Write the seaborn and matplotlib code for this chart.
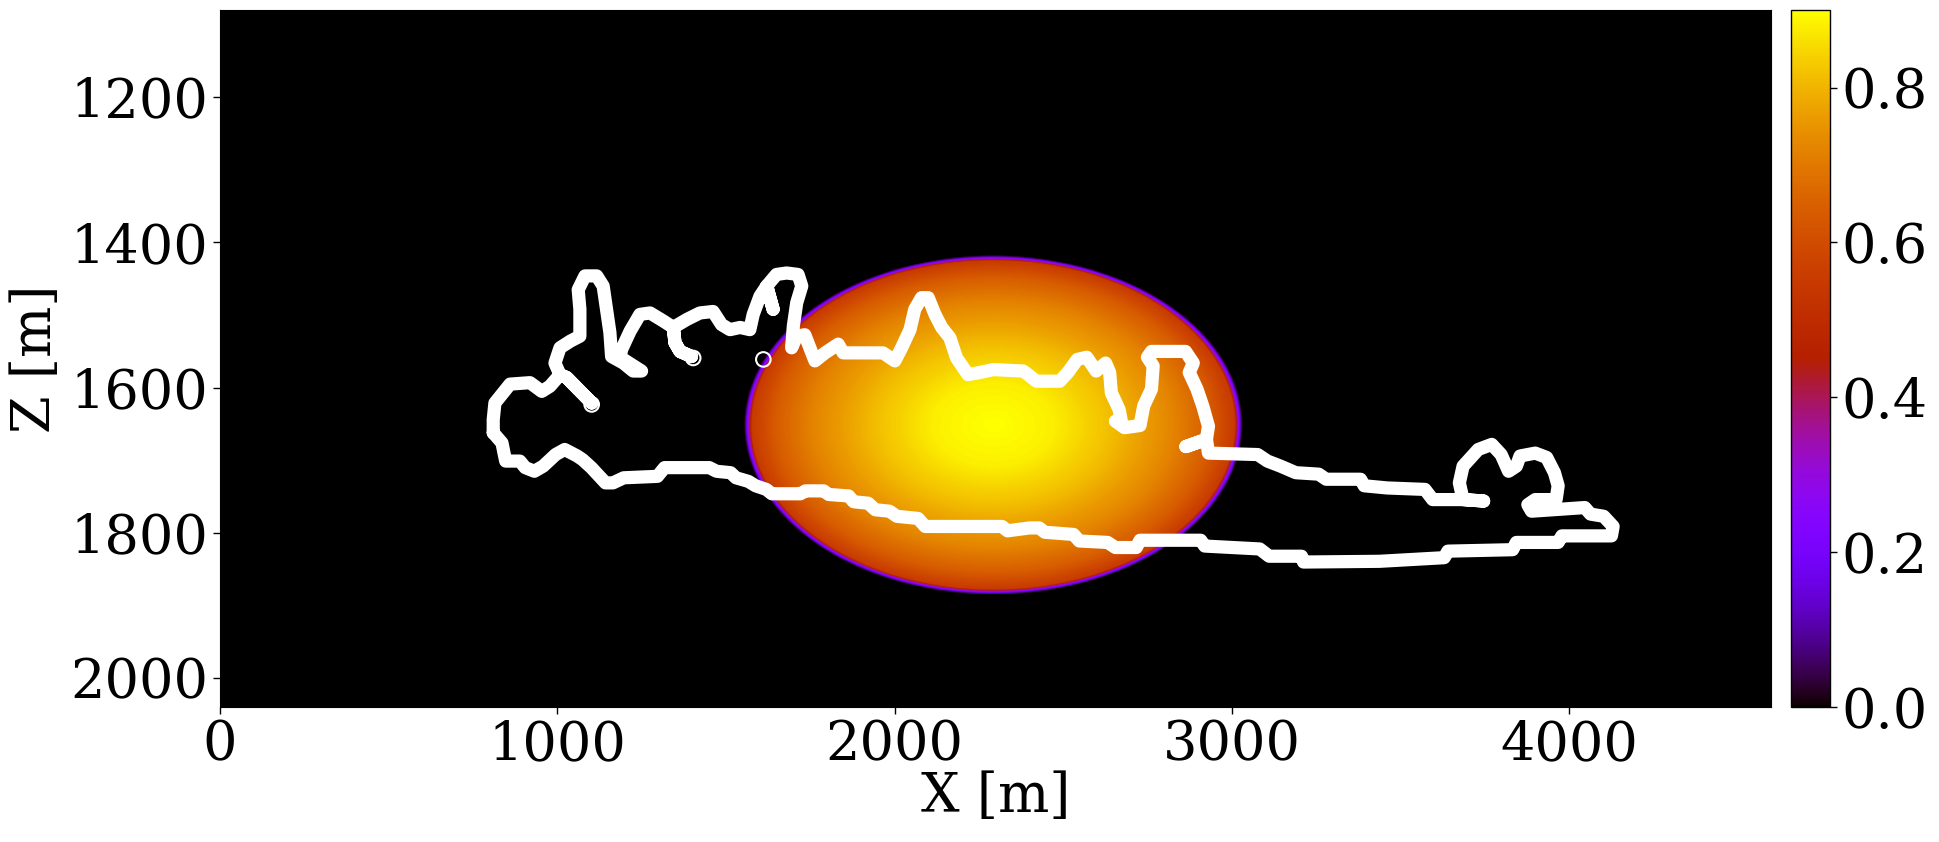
import numpy as np
import matplotlib
matplotlib.use("Agg")
import matplotlib.pyplot as plt
import seaborn as sns

# grid extent of the model [m]
x_range = [0, 4600]
z_range = [1080, 2040]

ell_center = (2292, 1652)
ell_half = (716, 226)
profile_r = [0.0, 0.25, 0.5, 0.75, 0.9, 1.0, 1.03]
profile_val = [0.90, 0.88, 0.81, 0.72, 0.64, 0.55, 0.0]

# white outline (x, z) in metres
outline_x = [810, 810, 815, 860, 919, 954, 978, 1008, 1028, 1102, 1028, 1008,
             993, 1008, 1038, 1067, 1067, 1062, 1082, 1117, 1136, 1146, 1156, 1161,
             1196, 1225, 1250, 1186, 1191, 1216, 1245, 1275, 1314, 1344, 1349, 1364,
             1398, 1364, 1349, 1344, 1384, 1423, 1462, 1487, 1512, 1542, 1571, 1581,
             1601, 1621, 1640, 1621, 1650, 1680, 1714, 1725, 1710, 1700, 1695, 1710,
             1734, 1764, 1794, 1833, 1848, 1966, 2001, 2021, 2046, 2060, 2080, 2100,
             2120, 2140, 2164, 2184, 2218, 2253, 2293, 2382, 2421, 2490,
             2514, 2542, 2570, 2598, 2626, 2638, 2643, 2666, 2672, 2655, 2682, 2728,
             2739, 2762, 2767, 2750, 2762, 2863, 2886, 2874, 2897, 2914, 2931, 2925,
             2864, 2925, 2931, 3077, 3106, 3145, 3190, 3258, 3280, 3382, 3393, 3461,
             3573, 3596, 3686, 3747, 3686, 3675, 3686, 3731, 3771, 3799, 3821, 3844,
             3855, 3900, 3934, 3957, 3968, 3962, 3900, 3878, 3889, 4047, 4064, 4103,
             4131, 4126, 4081, 3979, 3968, 3844, 3833, 3641, 3630, 3438, 3213, 3207,
             3111, 3083, 2920, 2908, 2728, 2717, 2655, 2632, 2548, 2531, 2446, 2429,
             2401,
             2335, 2319, 2091, 2070, 2007, 1985, 1943, 1922, 1879, 1864, 1805, 1790,
             1736, 1721, 1636, 1620, 1588, 1567, 1530, 1514, 1472, 1451, 1318, 1297,
             1197, 1165, 1143, 1101, 1075, 1059, 1022, 995, 958, 932, 905, 889,
             847, 842, 836, 810]
outline_z = [1662, 1644, 1621, 1595, 1593, 1605, 1598, 1582, 1586, 1621, 1586, 1582,
             1566, 1545, 1536, 1529, 1492, 1465, 1446, 1446, 1460, 1492, 1524, 1557,
             1566, 1577, 1577, 1558, 1547, 1522, 1499, 1497, 1508, 1517, 1538, 1550,
             1557, 1550, 1538, 1517, 1506, 1497, 1495, 1513, 1520, 1517, 1520, 1499,
             1474, 1460, 1492, 1460, 1444, 1442, 1444, 1460, 1483, 1515, 1545, 1529,
             1527, 1563, 1552, 1540, 1552, 1552, 1563, 1545, 1520, 1492, 1476, 1476,
             1499, 1517, 1531, 1559, 1582, 1579, 1575, 1577, 1591, 1591,
             1579, 1561, 1558, 1577, 1566, 1579, 1607, 1630, 1644, 1646, 1655, 1652,
             1625, 1602, 1570, 1558, 1550, 1550, 1566, 1579, 1602, 1625, 1653, 1671,
             1681, 1671, 1690, 1692, 1701, 1708, 1717, 1719, 1726, 1726, 1735, 1738,
             1740, 1754, 1754, 1756, 1754, 1731, 1708, 1685, 1678, 1692, 1715, 1708,
             1694, 1690, 1696, 1717, 1735, 1754, 1754, 1761, 1770, 1765, 1774, 1777,
             1791, 1804, 1804, 1804, 1813, 1813, 1823, 1825, 1834, 1839, 1840, 1832,
             1832, 1822, 1818, 1810, 1810, 1820, 1820, 1813, 1811, 1802, 1799, 1793,
             1793,
             1797, 1791, 1791, 1780, 1777, 1770, 1768, 1759, 1757, 1749, 1747, 1742,
             1742, 1746, 1746, 1740, 1735, 1729, 1724, 1717, 1715, 1710, 1710, 1722,
             1724, 1731, 1731, 1710, 1699, 1694, 1685, 1692, 1708, 1715, 1710, 1701,
             1701, 1690, 1676, 1662]

# isolated open-circle markers
marker_x = [1102, 1403, 1611]
marker_z = [1623, 1559, 1561]

x_ticks = [0, 1000, 2000, 3000, 4000]
z_ticks = [1200, 1400, 1600, 1800, 2000]
cbar_ticks = [0.0, 0.2, 0.4, 0.6, 0.8]
vmin, vmax = 0.0, 0.9

# build the field on a fine grid (about one cell per screen pixel)
dx, dz = 2.5, 1.5
xc = np.arange(x_range[0] + dx / 2, x_range[1], dx)
zc = np.arange(z_range[0] + dz / 2, z_range[1], dz)
XX, ZZ = np.meshgrid(xc, zc)
rr = np.sqrt(((XX - ell_center[0]) / ell_half[0]) ** 2 + ((ZZ - ell_center[1]) / ell_half[1]) ** 2)
field = np.interp(rr, profile_r, profile_val, right=0.0)

sns.set_style("ticks")
plt.rcParams["font.family"] = ["DejaVu Serif"]
plt.rcParams["font.size"] = 39
for key in ["text.color", "axes.labelcolor", "xtick.color", "ytick.color", "axes.edgecolor"]:
    plt.rcParams[key] = "black"

fig = plt.figure(figsize=(19.39, 8.42), dpi=100)
ax = fig.add_axes([0.1135, 0.160, 0.80, 0.828])
cax = fig.add_axes([0.9237, 0.160, 0.0201, 0.828])

im = ax.imshow(field, cmap="gnuplot", vmin=vmin, vmax=vmax, aspect="auto",
               extent=[x_range[0], x_range[1], z_range[1], z_range[0]],
               origin="upper", interpolation="bilinear", interpolation_stage="data")

sns.lineplot(x=outline_x, y=outline_z, sort=False, estimator=None, color="white",
             lw=9.5, solid_capstyle="round", solid_joinstyle="round", ax=ax)
ax.scatter(marker_x, marker_z, s=110, facecolors="none", edgecolors="white",
           linewidths=1.5, zorder=5)

ax.set_xlim(x_range)
ax.set_ylim(z_range[1], z_range[0])
ax.set_xticks(x_ticks)
ax.set_yticks(z_ticks)
ax.tick_params(labelsize=39, length=5, width=1, direction="out")
ax.set_xlabel("X [m]", fontsize=39, labelpad=0)
ax.set_ylabel("Z [m]", fontsize=39, labelpad=6)

cb = fig.colorbar(im, cax=cax)
cb.set_ticks(cbar_ticks)
cb.ax.set_yticklabels([f"{t:.1f}" for t in cbar_ticks])
cb.ax.tick_params(labelsize=39, length=5, width=1)
cb.outline.set_linewidth(1)

fig.savefig("out.png", dpi=100)
plt.close(fig)
